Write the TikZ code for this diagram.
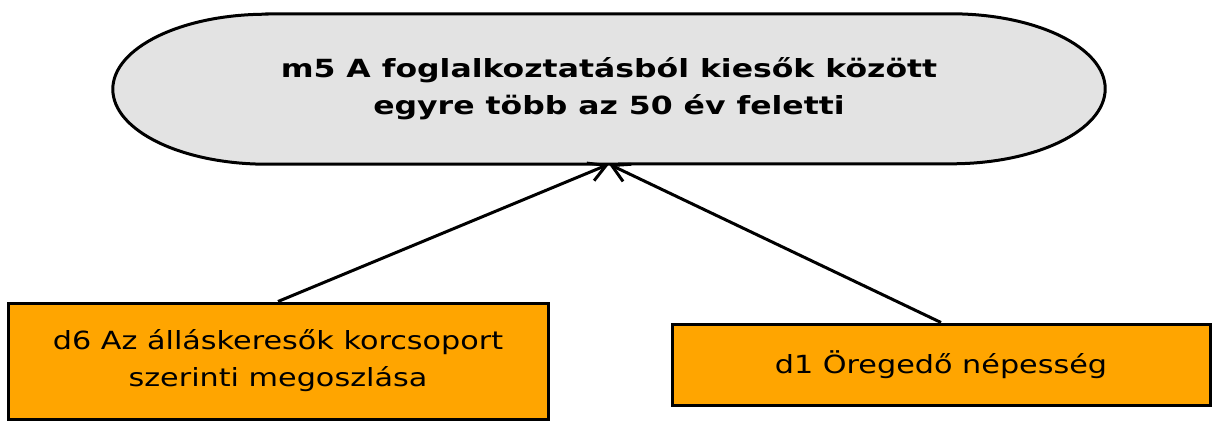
\documentclass[tikz,border=0pt]{standalone}
\usepackage{fontspec}
\setmainfont{DejaVu Sans}[FakeStretch=1.21,BoldFeatures={FakeStretch=1.26}]
\usetikzlibrary{arrows.meta,backgrounds}
\definecolor{boxorange}{HTML}{FFA500}
\definecolor{ellgray}{HTML}{E3E3E3}
\begin{document}
\begin{tikzpicture}[x=1pt,y=-1pt,
  mainnode/.style={minimum width=992pt,minimum height=150pt,inner sep=0pt,align=center,
    font=\fontsize{25}{37}\selectfont\bfseries},
  datanode/.style={draw=black,line width=3pt,fill=boxorange,inner sep=0pt,align=center,
    font=\fontsize{25}{37}\selectfont},
  link/.style={line width=3pt,-{Straight Barb[length=17pt,width=19pt,line width=3pt]}}]
\useasboundingbox (0,0) rectangle (1212,421);
\node[mainnode] (m5) at (609,89) {m5 A foglalkoztatásból kiesők között\\egyre több az 50 év feletti};
\begin{scope}[on background layer]
\draw[line width=3pt,fill=ellgray]
  ([xshift=154pt]m5.north west) -- ([xshift=-154pt]m5.north east)
  arc[start angle=90,end angle=-90,x radius=154pt,y radius=75pt]
  -- ([xshift=154pt]m5.south west)
  arc[start angle=270,end angle=90,x radius=154pt,y radius=75pt] -- cycle;
\end{scope}
\node[datanode,minimum width=540pt,minimum height=116pt] (d6) at (278,361)
  {d6 Az álláskeresők korcsoport\\szerinti megoszlása};
\node[datanode,minimum width=538pt,minimum height=81pt] (d1) at (941,364.5)
  {d1 Öregedő népesség};
\draw[link] (d6.north) -- (m5.south);
\draw[link] (d1.north) -- (m5.south);
\end{tikzpicture}
\end{document}
